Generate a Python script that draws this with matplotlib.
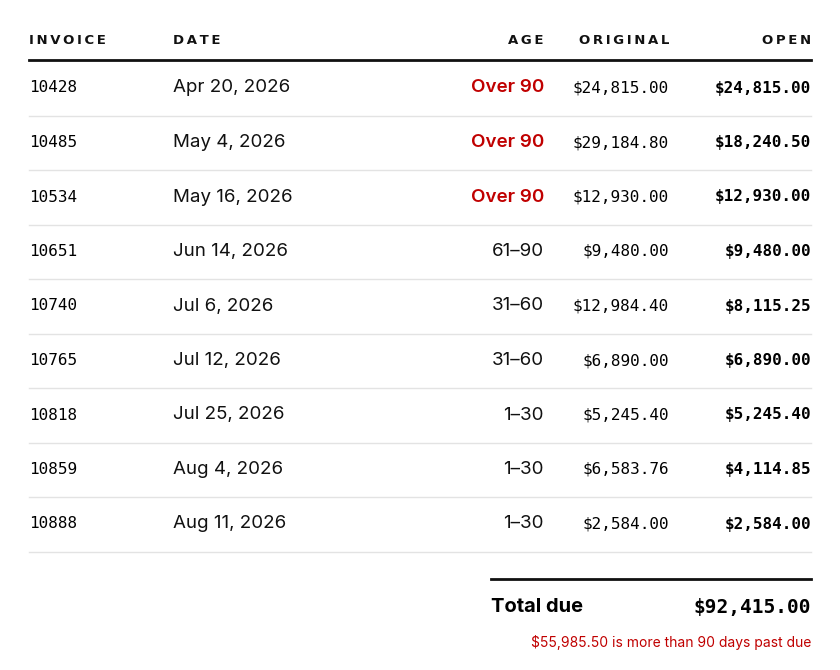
import matplotlib.pyplot as plt

invoices = ["10428", "10485", "10534", "10651", "10740", "10765", "10818", "10859", "10888"]
dates = ["Apr 20, 2026", "May 4, 2026", "May 16, 2026", "Jun 14, 2026", "Jul 6, 2026",
         "Jul 12, 2026", "Jul 25, 2026", "Aug 4, 2026", "Aug 11, 2026"]
ages = ["Over 90", "Over 90", "Over 90", "61–90", "31–60", "31–60", "1–30", "1–30", "1–30"]
original = [24815.00, 29184.80, 12930.00, 9480.00, 12984.40, 6890.00, 5245.40, 6583.76, 2584.00]
open_amt = [24815.00, 18240.50, 12930.00, 9480.00, 8115.25, 6890.00, 5245.40, 4114.85, 2584.00]
total_due = 92415.00
over_90 = 55985.50

RED = "#c00000"
SANS = ["Inter", "DejaVu Sans"]
MONO = "DejaVu Sans Mono"

fig = plt.figure(figsize=(8.4, 6.7), dpi=100)
ax = fig.add_axes([0, 0, 1, 1])
ax.set_xlim(0, 840)
ax.set_ylim(670, 0)
ax.axis("off")


def spaced(s):
    # rough letter spacing for the header labels
    return "\u2009".join(s)


# header
hdr = dict(fontsize=9.5, fontweight="bold", family=["DejaVu Sans"], va="center", color="#111")
ax.text(29, 41, spaced("INVOICE"), ha="left", **hdr)
ax.text(173, 41, spaced("DATE"), ha="left", **hdr)
ax.text(544, 41, spaced("AGE"), ha="right", **hdr)
ax.text(669, 41, spaced("ORIGINAL"), ha="right", **hdr)
ax.text(811, 41, spaced("OPEN"), ha="right", **hdr)
ax.plot([29, 811], [60, 60], color="#111", lw=2)

y0, dy = 88, 54.5
for i in range(len(invoices)):
    y = y0 + i * dy
    ax.text(29, y, invoices[i], family=MONO, fontsize=11.5, va="center", ha="left")
    ax.text(173, y, dates[i], family=SANS, fontsize=13.5, va="center", ha="left", color="#111")
    red = ages[i] == "Over 90"
    ax.text(544, y, ages[i], family=SANS, fontsize=13.5, va="center", ha="right",
            color=RED if red else "#111", fontweight="semibold" if red else "normal")
    ax.text(669, y, f"${original[i]:,.2f}", family=MONO, fontsize=11.5, va="center", ha="right")
    ax.text(811, y, f"${open_amt[i]:,.2f}", family=MONO, fontsize=11.5, va="center", ha="right",
            fontweight="bold")
    ax.plot([29, 811], [y + 27.5, y + 27.5], color="#e3e3e3", lw=1)

# total
ax.plot([491, 811], [579, 579], color="#111", lw=2)
ax.text(491, 607, "Total due", family=SANS, fontsize=14.5, fontweight="bold", va="center", ha="left")
ax.text(811, 607, f"${total_due:,.2f}", family=MONO, fontsize=14, fontweight="bold",
        va="center", ha="right")
ax.text(811, 642, f"${over_90:,.2f} is more than 90 days past due", family=SANS, fontsize=10,
        color=RED, va="center", ha="right")

fig.savefig("out.png", dpi=100)
